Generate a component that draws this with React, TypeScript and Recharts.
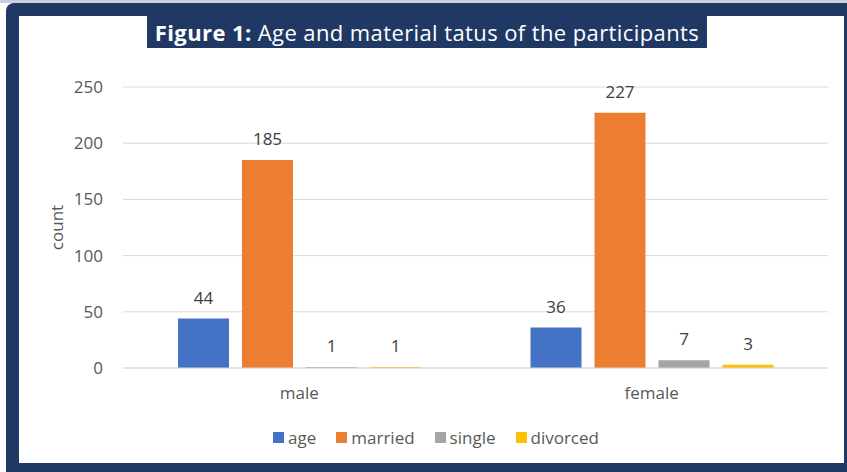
import React from 'react';
import { BarChart, Bar, XAxis, YAxis, CartesianGrid, LabelList } from 'recharts';

const groups = ['male', 'female'];
const ageCounts = [44, 36];
const marriedCounts = [185, 227];
const singleCounts = [1, 7];
const divorcedCounts = [1, 3];
const yTicks = [0, 50, 100, 150, 200, 250];

const series = [
    { key: 'age', name: 'age', color: '#4472C4' },
    { key: 'married', name: 'married', color: '#ED7D31' },
    { key: 'single', name: 'single', color: '#A5A5A5' },
    { key: 'divorced', name: 'divorced', color: '#FFC000' },
];

const chartData = groups.map((g, i) => ({
    group: g,
    age: ageCounts[i],
    married: marriedCounts[i],
    single: singleCounts[i],
    divorced: divorcedCounts[i],
}));

const FONT = '"Open Sans", "Liberation Sans", sans-serif';
const TEXT = '#595959';

export default function App() {
    return (
        <div style={{ position: 'absolute', left: 0, top: 0, width: 847, height: 472, background: '#ffffff', fontFamily: FONT, overflow: 'hidden' }}>
            <div style={{ position: 'absolute', left: 0, top: 0, width: 847, height: 3, background: '#c9d0dc' }} />
            <div style={{ position: 'absolute', left: 6, top: 3, right: 0, bottom: 0, background: '#1F3864', borderTopLeftRadius: 8 }} />
            <div style={{ position: 'absolute', left: 19, top: 16, width: 825, height: 447, background: '#ffffff' }} />

            <BarChart
                width={847}
                height={472}
                data={chartData}
                margin={{ top: 87, right: 19, left: 0, bottom: 74 }}
                barCategoryGap={55}
                barGap={13}
                style={{ position: 'absolute', left: 0, top: 0 }}
            >
                <CartesianGrid stroke="#D9D9D9" vertical={false} />
                <XAxis
                    dataKey="group"
                    height={30}
                    axisLine={{ stroke: '#D9D9D9' }}
                    tickLine={false}
                    tickMargin={13}
                    tick={{ fill: TEXT, fontSize: 17, fontFamily: FONT }}
                />
                <YAxis
                    width={123}
                    domain={[0, 250]}
                    ticks={yTicks}
                    axisLine={false}
                    tickLine={false}
                    tickMargin={14}
                    tick={{ fill: TEXT, fontSize: 17, fontFamily: FONT }}
                    label={{
                        value: 'count',
                        angle: -90,
                        position: 'insideLeft',
                        offset: 57,
                        style: { textAnchor: 'middle', fill: TEXT, fontSize: 17, fontFamily: FONT },
                    }}
                />
                {series.map((s) => (
                    <Bar key={s.key} dataKey={s.key} name={s.name} fill={s.color} isAnimationActive={false}>
                        <LabelList
                            dataKey={s.key}
                            position="top"
                            offset={15}
                            style={{ fill: '#404040', fontSize: 17, fontFamily: FONT }}
                        />
                    </Bar>
                ))}
            </BarChart>

            <div style={{ position: 'absolute', left: 147, top: 16, width: 560, height: 32, background: '#1F3864', color: '#ffffff', fontSize: 22, letterSpacing: 0.4, lineHeight: '32px', textAlign: 'center', whiteSpace: 'nowrap' }}>
                <b>Figure 1:</b> Age and material tatus of the participants
            </div>

            <div style={{ position: 'absolute', left: 0, top: 426, width: 872, display: 'flex', justifyContent: 'center', fontSize: 17, color: TEXT }}>
                {series.map((s, i) => (
                    <div key={s.key} style={{ display: 'flex', alignItems: 'center', marginLeft: i === 0 ? 0 : 20 }}>
                        <span style={{ display: 'inline-block', width: 11, height: 11, background: s.color, marginRight: 4 }} />
                        <span>{s.name}</span>
                    </div>
                ))}
            </div>
        </div>
    );
}
